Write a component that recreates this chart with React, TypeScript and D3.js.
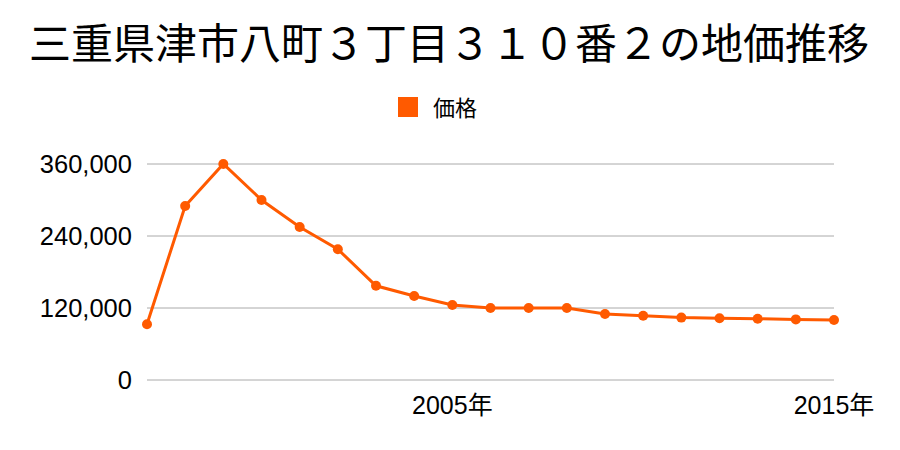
import React from "react";
import * as d3 from "d3";

const title = "三重県津市八町３丁目３１０番２の地価推移";
const seriesName = "価格";
const years = [1997, 1998, 1999, 2000, 2001, 2002, 2003, 2004, 2005, 2006, 2007, 2008, 2009, 2010, 2011, 2012, 2013, 2014, 2015];
const prices = [93000, 290000, 360000, 300000, 255000, 218000, 157000, 140000, 125000, 120000, 120000, 120000, 110000, 107000, 104000, 103000, 102000, 101000, 100000];
const yTicks = [0, 120000, 240000, 360000];
const xTicks = [2005, 2015];

const W = 900;
const H = 450;
const color = "#ff5a00";
const font = "'Liberation Sans', 'Noto Sans CJK JP', sans-serif";

export default function App() {
  const x = d3.scaleLinear().domain([1997, 2015]).range([147, 834]);
  const y = d3.scaleLinear().domain([0, 360000]).range([380, 164]);
  const line = d3
    .line<number>()
    .x((_, i) => x(years[i]))
    .y((d) => y(d));
  const fmt = d3.format(",");

  return (
    <svg
      width={W}
      height={H}
      style={{ position: "absolute", left: 0, top: 0, background: "#fff" }}
      fontFamily={font}
    >
      <text x={449} y={59} textAnchor="middle" fontSize={42} fontFamily="'Noto Sans CJK JP', sans-serif" fill="#000">
        {title}
      </text>
      <rect x={398} y={97} width={20} height={20} fill={color} />
      <text x={433} y={116} fontSize={22} fontFamily="'Noto Sans CJK JP', sans-serif" fill="#000">
        {seriesName}
      </text>
      {yTicks.map((t) => (
        <g key={t}>
          <line x1={147} x2={834} y1={y(t)} y2={y(t)} stroke="#aaaaaa" strokeWidth={1} />
          <text x={132} y={y(t)} dy="0.36em" textAnchor="end" fontSize={25.5} fill="#000">
            {fmt(t)}
          </text>
        </g>
      ))}
      {xTicks.map((t) => (
        <text key={t} x={x(t)} y={414} textAnchor="middle" fontSize={25} fill="#000">
          {t}年
        </text>
      ))}
      <path d={line(prices) || ""} fill="none" stroke={color} strokeWidth={3} />
      {prices.map((p, i) => (
        <circle key={i} cx={x(years[i])} cy={y(p)} r={5} fill={color} />
      ))}
    </svg>
  );
}
